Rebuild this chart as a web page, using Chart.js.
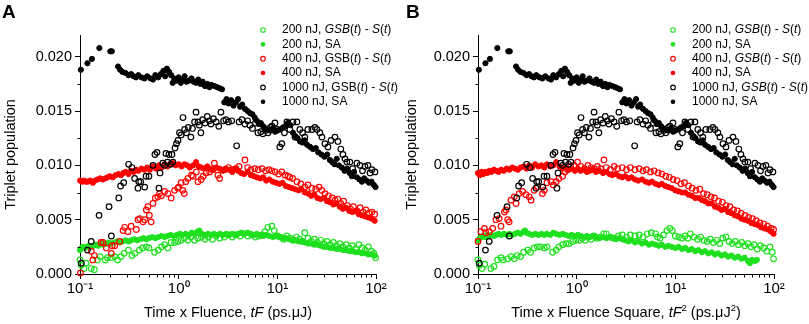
<!DOCTYPE html>
<html><head><meta charset="utf-8">
<script src="https://cdn.jsdelivr.net/npm/chart.js@4.4.1/dist/chart.umd.min.js"></script>
<style>
html,body{margin:0;padding:0;background:#fff;}
#wrap{position:relative;width:809px;height:324px;overflow:hidden;background:#fff;}
canvas{position:absolute;top:0;width:404px;height:324px;}
#cA{left:0;} #cB{left:405px;}
</style></head><body>
<div id="wrap"><canvas id="cA" width="404" height="324"></canvas><canvas id="cB" width="404" height="324"></canvas></div>
<script>
const FONT = "'Liberation Sans', Arial, Helvetica, sans-serif";

// ---- axis ticks ----
const xMajorTicks = [0.1, 1, 10, 100];
const xTickLabels = ['10\u207B\u00B9', '10\u2070', '10\u00B9', '10\u00B2'];
const yTickValues = [0, 0.0025, 0.005, 0.0075, 0.01, 0.0125, 0.015, 0.0175, 0.02];
const yMajorTicks = [0, 0.005, 0.01, 0.015, 0.02];
const yTickLabels = ['0.000', '0.005', '0.010', '0.015', '0.020'];

// ---- 1000 nJ (same in both panels) ----
const k1000Sa = [[0.102,0.0188],[0.119,0.0194],[0.132,0.0198],[0.157,0.0208],[0.203,0.0205],[0.210,0.0205],
[0.243,0.0191],[0.255,0.0188],[0.27,0.0186],[0.29,0.0185],[0.31,0.0183],[0.33,0.0184],[0.35,0.0182],[0.37,0.0181],[0.39,0.0183],[0.42,0.0181],[0.45,0.0180],[0.48,0.0182],[0.52,0.0180],[0.55,0.0179],[0.58,0.0183],[0.62,0.0181],[0.66,0.0184],[0.70,0.0187],[0.73,0.0182],[0.76,0.0189],[0.80,0.0186],[0.84,0.0183],[0.87,0.0176],[0.90,0.0180],[0.95,0.0178],[1.0,0.0181],[1.05,0.0176],[1.1,0.0179],[1.15,0.0182],[1.2,0.0177],[1.27,0.0178],[1.35,0.0180],[1.42,0.0177],[1.5,0.0176],[1.58,0.0179],[1.66,0.0175],[1.75,0.0177],[1.85,0.0173],[1.95,0.0175],[2.05,0.0172],[2.15,0.0174],[2.3,0.0173],[2.45,0.0172],[2.6,0.0171],[2.75,0.0170],
[2.9,0.0158],[3.05,0.0161],[3.2,0.0157],[3.4,0.0160],[3.6,0.0155],[3.8,0.0158],[4.0,0.0161],[4.2,0.0154],[4.4,0.0156],[4.7,0.0152],[5.0,0.0150],[5.3,0.0148],[5.6,0.0147],[5.9,0.0144],[6.2,0.0141],[6.5,0.0138],[6.8,0.0139],[7.2,0.0136],[7.6,0.0134],[8.0,0.0133],[8.5,0.0132],[9.0,0.0134],[9.5,0.0131],[10,0.0132],[10.7,0.0133],[11.4,0.0135],[12.1,0.0136],[12.8,0.0139],[13.6,0.0137],[14.4,0.0130],[15.2,0.0127],[16,0.0125],[17,0.0122],[18,0.0121],[19,0.0123],[20,0.0119],[21.5,0.0117],[23,0.0115],[24.5,0.0116],[26,0.0112],[28,0.0110],[30,0.0108],[32,0.0110],[34,0.0105],[36,0.0103],[38,0.0101],[40,0.0106],[42,0.0100],[45,0.0098],[48,0.0095],[51,0.0097],[54,0.0093],[57,0.0090],[60,0.0094],[64,0.0089],[68,0.0087],[72,0.0085],[76,0.0088],[80,0.0086],[85,0.0084],[90,0.0085],[95,0.0082],[99,0.0080]];

const k1000Gsb = [[0.103,0.0010],[0.119,0.0022],[0.130,0.0030],[0.156,0.0054],[0.197,0.0062],[0.208,0.0035],[0.247,0.0070],[0.258,0.0081],[0.277,0.0084],[0.311,0.0101],[0.336,0.0098],[0.358,0.0088],[0.387,0.0079],[0.394,0.0085],[0.412,0.0085],[0.453,0.0080],[0.467,0.0090],[0.500,0.0090],[0.549,0.0100],[0.575,0.0110],[0.603,0.0112],[0.631,0.0079],[0.647,0.0093],[0.69,0.0102],[0.72,0.0100],[0.743,0.0111],[0.77,0.0103],[0.797,0.0110],[0.83,0.0101],[0.855,0.0110],[0.875,0.0103],[0.918,0.0116],[0.95,0.0120],[0.984,0.0123],[1.02,0.0130],[1.06,0.0128],[1.106,0.0144],[1.15,0.0133],[1.2,0.0130],[1.25,0.0135],[1.33,0.0126],[1.38,0.0134],[1.45,0.0140],[1.50,0.0149],[1.57,0.0140],[1.62,0.0137],[1.68,0.0130],[1.75,0.0142],[1.85,0.0139],[1.95,0.0145],[2.05,0.0141],[2.12,0.0138],[2.25,0.0143],[2.4,0.0140],[2.55,0.0136],[2.68,0.0149],[2.85,0.0141],[3.01,0.0142],[3.2,0.0140],[3.45,0.0141],[3.87,0.0118],[4.1,0.0140],[4.38,0.0142],[4.7,0.0138],[5.0,0.0141],[5.27,0.0137],[5.6,0.0134],[6.0,0.0139],[6.36,0.0130],[6.8,0.0131],[7.14,0.0129],[7.6,0.0132],[8.03,0.0130],[8.5,0.0135],[8.82,0.0136],[9.46,0.0139],[10.0,0.0133],[10.6,0.0117],[11.1,0.0120],[11.8,0.0130],[12.5,0.0140],[13.4,0.0133],[14.4,0.0140],[15.1,0.0126],[15.8,0.0140],[16.9,0.0133],[18.0,0.0130],[19.0,0.0126],[20.4,0.0133],[22.4,0.0133],[24.0,0.0135],[25.2,0.0133],[27,0.0130],[28.3,0.0126],[30.4,0.0120],[32.6,0.0117],[35,0.0123],[38.4,0.0126],[41.1,0.0122],[44,0.0115],[46.2,0.0110],[48.5,0.0106],[50.7,0.0103],[54.4,0.0103],[58,0.0097],[64.1,0.0102],[68.8,0.0100],[73,0.0095],[77.3,0.0099],[82.8,0.0100],[87,0.0093],[90.9,0.0096],[97.5,0.0094]];

// ---- Panel A: 400 nJ ----
const a400Sa = [[0.100,0.0086],[0.105,0.0085],[0.11,0.0086],[0.115,0.0085],[0.12,0.0085],[0.127,0.0086],[0.135,0.0084],[0.142,0.0086],[0.15,0.0087],[0.16,0.0088],[0.17,0.0087],[0.18,0.0088],[0.19,0.0089],[0.20,0.0090],[0.215,0.0089],[0.23,0.0091],[0.245,0.0092],[0.26,0.0091],[0.275,0.0093],[0.29,0.0094],[0.31,0.0092],[0.33,0.0095],[0.35,0.0094],[0.37,0.0096],[0.39,0.0095],[0.42,0.0097],[0.45,0.0096],[0.48,0.0098],[0.51,0.0096],[0.55,0.0099],[0.59,0.0097],[0.63,0.0100],[0.67,0.0098],[0.72,0.0101],[0.77,0.0099],[0.82,0.0101],[0.87,0.0102],[0.93,0.0100],[1.0,0.0101],[1.07,0.0099],[1.14,0.0101],[1.22,0.0100],[1.3,0.0098],[1.4,0.0100],[1.5,0.0103],[1.6,0.0099],[1.7,0.0098],[1.82,0.0097],[1.95,0.0099],[2.1,0.0097],[2.25,0.0096],[2.4,0.0098],[2.6,0.0097],[2.8,0.0095],[3.0,0.0097],[3.25,0.0096],[3.5,0.0094],[3.75,0.0097],[4.0,0.0095],[4.3,0.0093],[4.6,0.0092],[5.0,0.0094],[5.4,0.0091],[5.8,0.0090],[6.2,0.0089],[6.7,0.0088],[7.2,0.0089],[7.7,0.0086],[8.3,0.0087],[9.0,0.0085],[9.7,0.0084],[10.5,0.0083],[11.3,0.0084],[12.2,0.0081],[13.1,0.0080],[14.1,0.0079],[15.2,0.0078],[16.4,0.0077],[17.6,0.0078],[19,0.0075],[20.5,0.0074],[22,0.0072],[23.7,0.0073],[25.5,0.0070],[27.5,0.0069],[29.6,0.0070],[31.9,0.0067],[34.3,0.0066],[37,0.0064],[39.8,0.0065],[42.9,0.0062],[46.2,0.0060],[49.8,0.0061],[53.6,0.0058],[57.7,0.0057],[62.2,0.0058],[67,0.0055],[72.2,0.0054],[77.7,0.0053],[83.7,0.0052],[90.1,0.0051],[97,0.0049]];

const a400Gsb = [[0.101,0.0001],[0.130,0.0021],[0.135,0.0013],[0.14,0.0017],[0.163,0.0029],[0.171,0.0029],[0.185,0.0024],[0.208,0.0019],[0.212,0.0026],[0.225,0.0026],[0.253,0.0030],[0.273,0.0040],[0.283,0.0043],[0.306,0.0039],[0.33,0.0044],[0.372,0.0041],[0.387,0.0050],[0.403,0.0051],[0.435,0.0048],[0.453,0.0050],[0.47,0.0059],[0.488,0.0062],[0.505,0.0054],[0.526,0.0048],[0.549,0.0065],[0.58,0.0070],[0.615,0.0071],[0.64,0.0074],[0.668,0.0072],[0.72,0.0076],[0.78,0.0074],[0.84,0.0070],[0.91,0.0077],[0.98,0.0079],[1.0,0.0080],[1.06,0.0084],[1.10,0.0077],[1.14,0.0074],[1.18,0.0085],[1.24,0.0088],[1.35,0.0091],[1.40,0.0090],[1.51,0.0094],[1.57,0.0085],[1.69,0.0087],[1.77,0.0090],[1.90,0.0093],[2.06,0.0094],[2.21,0.0096],[2.3,0.0102],[2.5,0.0091],[2.6,0.0088],[2.93,0.0096],[3.2,0.0098],[3.5,0.0096],[3.8,0.0097],[4.1,0.0099],[4.7,0.0105],[5.0,0.0098],[5.4,0.0096],[5.9,0.0097],[6.4,0.0096],[7.0,0.0097],[7.6,0.0095],[8.2,0.0096],[8.8,0.0095],[9.5,0.0094],[10.3,0.0092],[11.1,0.0094],[12,0.0091],[12.8,0.0090],[13.4,0.0089],[14.3,0.0088],[15.8,0.0085],[17.3,0.0083],[19,0.0080],[20.4,0.0082],[22.4,0.0079],[24.5,0.0078],[26.5,0.0080],[28.3,0.0077],[30.4,0.0074],[33,0.0072],[36,0.0070],[38.5,0.0068],[41,0.0069],[44,0.0065],[47,0.0067],[51,0.0063],[55,0.0060],[59,0.0062],[64,0.0058],[69,0.0061],[74,0.0057],[79,0.0059],[85,0.0056],[91,0.0057],[97,0.0055]];

// ---- Panel A: 200 nJ ----
const a200Sa = [[0.100,0.0022],[0.103,0.0024],[0.107,0.0025],[0.112,0.0024],[0.117,0.0025],[0.123,0.0026],[0.13,0.0025],[0.137,0.0026],[0.145,0.0027],[0.153,0.0026],[0.162,0.0028],[0.172,0.0027],[0.183,0.0028],[0.195,0.0029],[0.208,0.0028],[0.222,0.0029],[0.237,0.0030],[0.253,0.0029],[0.27,0.0030],[0.29,0.0031],[0.31,0.0030],[0.33,0.0031],[0.355,0.0032],[0.38,0.0031],[0.41,0.0032],[0.44,0.0033],[0.47,0.0032],[0.5,0.0033],[0.54,0.0034],[0.58,0.0033],[0.62,0.0034],[0.67,0.0035],[0.72,0.0034],[0.77,0.0035],[0.83,0.0036],[0.89,0.0035],[0.96,0.0036],[1.03,0.0037],[1.1,0.0036],[1.18,0.0037],[1.27,0.0036],[1.36,0.0038],[1.46,0.0037],[1.55,0.0039],[1.62,0.0040],[1.72,0.0037],[1.85,0.0036],[1.98,0.0037],[2.12,0.0036],[2.28,0.0037],[2.45,0.0036],[2.63,0.0037],[2.82,0.0036],[3.03,0.0037],[3.25,0.0036],[3.5,0.0037],[3.75,0.0036],[4.0,0.0037],[4.3,0.0038],[4.6,0.0037],[5.0,0.0038],[5.4,0.0037],[5.8,0.0036],[6.2,0.0037],[6.7,0.0036],[7.2,0.0035],[7.7,0.0036],[8.3,0.0035],[9.0,0.0034],[9.7,0.0035],[10.5,0.0034],[11.3,0.0033],[12.2,0.0033],[13.1,0.0032],[14.1,0.0031],[15.2,0.0031],[16.4,0.0030],[17.6,0.0030],[19,0.0029],[20.5,0.0028],[22,0.0028],[23.7,0.0027],[25.5,0.0027],[27.5,0.0026],[29.6,0.0025],[31.9,0.0025],[34.3,0.0024],[37,0.0024],[39.8,0.0023],[42.9,0.0023],[46.2,0.0022],[49.8,0.0022],[53.6,0.0021],[57.7,0.0021],[62.2,0.0020],[67,0.0020],[72.2,0.0019],[77.7,0.0019],[83.7,0.0018],[90.1,0.0018],[97,0.0017]];

const a200Gsb = [[0.100,0.0013],[0.103,0.0008],[0.11,0.0005],[0.115,0.0010],[0.13,0.0005],[0.14,0.0004],[0.15,0.0013],[0.16,0.0016],[0.18,0.0013],[0.19,0.0015],[0.208,0.0015],[0.225,0.0016],[0.24,0.0013],[0.26,0.0016],[0.28,0.0019],[0.31,0.0022],[0.336,0.0017],[0.36,0.0019],[0.40,0.0022],[0.43,0.0024],[0.47,0.0025],[0.50,0.0024],[0.57,0.0020],[0.62,0.0022],[0.67,0.0025],[0.72,0.0027],[0.78,0.0024],[0.84,0.0029],[0.91,0.0029],[0.98,0.0030],[1.06,0.0031],[1.14,0.0033],[1.24,0.0031],[1.33,0.0034],[1.45,0.0031],[1.57,0.0033],[1.7,0.0034],[1.85,0.0032],[2.0,0.0034],[2.2,0.0032],[2.4,0.0035],[2.6,0.0033],[2.9,0.0034],[3.2,0.0036],[3.5,0.0034],[3.8,0.0036],[4.2,0.0035],[4.6,0.0037],[5.0,0.0035],[5.5,0.0036],[6.0,0.0034],[6.5,0.0035],[7.0,0.0036],[7.5,0.0039],[8.0,0.0043],[8.8,0.0044],[9.3,0.0040],[10,0.0035],[10.8,0.0034],[11.6,0.0032],[12.5,0.0035],[13.5,0.0033],[14.5,0.0031],[15.6,0.0034],[16.8,0.0032],[18,0.0030],[19,0.0038],[20.5,0.0033],[22,0.0030],[23.7,0.0032],[25.5,0.0029],[27.5,0.0031],[29.6,0.0028],[31.9,0.0030],[34.3,0.0027],[37,0.0029],[39.8,0.0026],[42.9,0.0028],[46.2,0.0025],[49.8,0.0027],[53.6,0.0024],[57.7,0.0026],[62.2,0.0023],[67,0.0027],[72.2,0.0024],[77.7,0.0022],[83.7,0.0025],[90.1,0.0021],[95,0.0019],[99,0.0015]];

// ---- Panel B: 400 nJ ----
const b400Sa = [[0.100,0.0093],[0.104,0.0091],[0.108,0.0094],[0.113,0.0092],[0.118,0.0094],[0.124,0.0093],[0.13,0.0095],[0.137,0.0094],[0.145,0.0096],[0.153,0.0095],[0.162,0.0094],[0.172,0.0096],[0.183,0.0095],[0.195,0.0097],[0.208,0.0096],[0.222,0.0098],[0.237,0.0097],[0.253,0.0096],[0.27,0.0098],[0.29,0.0099],[0.31,0.0097],[0.33,0.0100],[0.355,0.0098],[0.38,0.0101],[0.41,0.0099],[0.44,0.0100],[0.47,0.0098],[0.5,0.0101],[0.54,0.0099],[0.58,0.0100],[0.62,0.0103],[0.67,0.0099],[0.72,0.0097],[0.77,0.0098],[0.83,0.0096],[0.89,0.0097],[0.96,0.0095],[1.03,0.0097],[1.1,0.0095],[1.18,0.0096],[1.27,0.0094],[1.36,0.0095],[1.46,0.0096],[1.57,0.0094],[1.7,0.0095],[1.85,0.0093],[2.0,0.0094],[2.15,0.0092],[2.3,0.0091],[2.5,0.0092],[2.7,0.0090],[2.9,0.0089],[3.1,0.0090],[3.35,0.0088],[3.6,0.0089],[3.9,0.0087],[4.2,0.0086],[4.6,0.0087],[5.0,0.0085],[5.4,0.0084],[5.8,0.0085],[6.3,0.0083],[6.8,0.0082],[7.3,0.0083],[7.9,0.0081],[8.5,0.0080],[9.2,0.0079],[10,0.0077],[10.8,0.0076],[11.7,0.0075],[12.6,0.0075],[13.6,0.0073],[14.7,0.0072],[15.9,0.0070],[17.2,0.0070],[18.6,0.0068],[20,0.0067],[21.6,0.0065],[23.4,0.0065],[25.2,0.0062],[27.2,0.0061],[29.4,0.0059],[31.7,0.0060],[34.3,0.0057],[37,0.0056],[40,0.0054],[43.2,0.0053],[46.7,0.0051],[50.4,0.0050],[54.4,0.0049],[58.8,0.0047],[63.5,0.0046],[68.6,0.0045],[74,0.0043],[80,0.0042],[86.4,0.0041],[93.3,0.0039],[99,0.0037]];

const b400Gsb = [[0.100,0.0030],[0.107,0.0039],[0.116,0.0042],[0.12,0.0038],[0.13,0.0039],[0.141,0.0042],[0.152,0.0050],[0.164,0.0051],[0.171,0.0044],[0.185,0.0057],[0.192,0.0059],[0.20,0.0050],[0.207,0.0048],[0.216,0.0068],[0.233,0.0071],[0.243,0.0065],[0.262,0.0074],[0.283,0.0076],[0.306,0.0073],[0.33,0.0071],[0.345,0.0068],[0.37,0.0077],[0.40,0.0080],[0.45,0.0074],[0.47,0.0077],[0.50,0.0084],[0.55,0.0085],[0.58,0.0082],[0.62,0.0085],[0.66,0.0088],[0.72,0.0090],[0.76,0.0094],[0.81,0.0096],[0.87,0.0099],[0.94,0.0100],[1.02,0.0103],[1.1,0.0099],[1.2,0.0097],[1.3,0.0100],[1.4,0.0098],[1.5,0.0097],[1.62,0.0099],[1.75,0.0097],[1.89,0.0105],[2.0,0.0098],[2.2,0.0096],[2.4,0.0099],[2.6,0.0097],[2.9,0.0098],[3.2,0.0096],[3.5,0.0098],[3.9,0.0096],[4.3,0.0097],[4.7,0.0095],[5.1,0.0096],[5.6,0.0094],[6.1,0.0095],[6.7,0.0093],[7.3,0.0092],[8.0,0.0090],[8.7,0.0089],[9.5,0.0087],[10.4,0.0086],[11.4,0.0083],[12.4,0.0084],[13.6,0.0081],[14.8,0.0079],[16.2,0.0077],[17.7,0.0078],[19.3,0.0074],[21,0.0073],[23,0.0071],[25,0.0070],[27.4,0.0067],[30,0.0066],[32.7,0.0063],[35.7,0.0062],[39,0.0059],[42.5,0.0058],[46.4,0.0056],[50.7,0.0054],[55.3,0.0052],[60.4,0.0051],[66,0.0049],[72,0.0047],[78.6,0.0046],[85.8,0.0044],[93.7,0.0042],[99,0.0041]];

// ---- Panel B: 200 nJ ----
const b200Sa = [[0.100,0.0031],[0.104,0.0033],[0.108,0.0034],[0.113,0.0035],[0.118,0.0034],[0.124,0.0036],[0.13,0.0035],[0.137,0.0036],[0.145,0.0035],[0.153,0.0036],[0.162,0.0037],[0.172,0.0036],[0.183,0.0037],[0.195,0.0036],[0.208,0.0037],[0.222,0.0036],[0.237,0.0037],[0.253,0.0038],[0.27,0.0037],[0.29,0.0039],[0.30,0.0040],[0.31,0.0038],[0.33,0.0037],[0.355,0.0036],[0.38,0.0037],[0.41,0.0036],[0.44,0.0037],[0.47,0.0036],[0.5,0.0037],[0.54,0.0036],[0.58,0.0038],[0.62,0.0037],[0.67,0.0036],[0.72,0.0037],[0.77,0.0036],[0.83,0.0035],[0.89,0.0036],[0.96,0.0035],[1.03,0.0036],[1.1,0.0035],[1.18,0.0034],[1.27,0.0035],[1.36,0.0034],[1.46,0.0035],[1.57,0.0034],[1.7,0.0033],[1.85,0.0034],[2.0,0.0033],[2.15,0.0034],[2.3,0.0033],[2.5,0.0032],[2.7,0.0033],[2.9,0.0032],[3.1,0.0031],[3.35,0.0030],[3.6,0.0031],[3.9,0.0029],[4.2,0.0030],[4.6,0.0028],[5.0,0.0029],[5.4,0.0027],[5.8,0.0028],[6.3,0.0027],[6.8,0.0026],[7.3,0.0027],[7.9,0.0025],[8.5,0.0026],[9.2,0.0025],[10,0.0024],[10.8,0.0025],[11.7,0.0023],[12.6,0.0024],[13.6,0.0022],[14.7,0.0023],[15.9,0.0021],[17.2,0.0022],[18.6,0.0020],[20,0.0021],[21.6,0.0019],[23.4,0.0020],[25.2,0.0018],[27.2,0.0019],[29.4,0.0017],[31.7,0.0018],[34.3,0.0016],[37,0.0017],[40,0.0015],[43.2,0.0016],[46.7,0.0014],[50.4,0.0015],[54.4,0.0012],[57,0.0010],[60,0.0013],[64,0.0012],[67,0.0013]];

const b200Gsb = [[0.100,0.0013],[0.103,0.0008],[0.11,0.0005],[0.117,0.0009],[0.135,0.0005],[0.145,0.0007],[0.158,0.0013],[0.171,0.0015],[0.18,0.0013],[0.20,0.0014],[0.216,0.0016],[0.233,0.0014],[0.25,0.0017],[0.27,0.0016],[0.29,0.0020],[0.32,0.0022],[0.34,0.0020],[0.37,0.0024],[0.40,0.0025],[0.43,0.0025],[0.47,0.0024],[0.50,0.0025],[0.57,0.0020],[0.62,0.0022],[0.66,0.0025],[0.72,0.0027],[0.78,0.0028],[0.84,0.0028],[0.91,0.0030],[0.98,0.0031],[1.06,0.0031],[1.14,0.0033],[1.22,0.0031],[1.3,0.0034],[1.4,0.0032],[1.5,0.0035],[1.6,0.0033],[1.75,0.0034],[1.88,0.0037],[2.0,0.0037],[2.2,0.0034],[2.4,0.0033],[2.65,0.0035],[2.9,0.0036],[3.2,0.0034],[3.5,0.0036],[3.9,0.0035],[4.3,0.0036],[4.7,0.0034],[5.2,0.0037],[5.7,0.0038],[6.3,0.0037],[6.6,0.0034],[7.0,0.0033],[7.6,0.0036],[8.2,0.0040],[8.8,0.0042],[9.3,0.0040],[10,0.0035],[10.8,0.0034],[11.6,0.0033],[12.5,0.0035],[13.4,0.0033],[14.2,0.0037],[15.5,0.0034],[16.8,0.0032],[18,0.0034],[19.5,0.0031],[21,0.0030],[22.6,0.0032],[24.3,0.0029],[26.2,0.0031],[28.2,0.0028],[30.3,0.0033],[32.6,0.0034],[35,0.0030],[37.7,0.0028],[40.6,0.0030],[43.7,0.0027],[47,0.0029],[50.6,0.0026],[54.4,0.0028],[58.5,0.0025],[63,0.0027],[67.8,0.0023],[73,0.0026],[78.5,0.0024],[84.5,0.0021],[91,0.0025],[96,0.0020],[99,0.0014]];

// ---- styles ----
const GREEN = '#1ee01e', RED = '#ff0000', BLACK = '#000000';

function seg(str) { // '|' separates segments, '*' prefix = italic, '^' prefix = superscript
  return str.split('|').map(s => s[0] === '*' ? [s.slice(1), 'i'] : (s[0] === '^' ? [s.slice(1), 'sup'] : [s, 'n']));
}

const seriesA = [
  {data: a200Gsb, color: GREEN, filled: false, legend: seg('200 nJ, |*GSB|(|*t|) - |*S|(|*t|)')},
  {data: a200Sa,  color: GREEN, filled: true,  legend: seg('200 nJ, SA')},
  {data: a400Gsb, color: RED,   filled: false, legend: seg('400 nJ, GSB(|*t|) - |*S|(|*t|)')},
  {data: a400Sa,  color: RED,   filled: true,  legend: seg('400 nJ, SA')},
  {data: k1000Gsb,color: BLACK, filled: false, legend: seg('1000 nJ, GSB(|*t|) - |*S|(|*t|)')},
  {data: k1000Sa, color: BLACK, filled: true,  legend: seg('1000 nJ, SA')}
];
const seriesB = [
  {data: b200Gsb, color: GREEN, filled: false, legend: seg('200 nJ, |*GSB|(|*t|) - |*S|(|*t|)')},
  {data: b200Sa,  color: GREEN, filled: true,  legend: seg('200 nJ, SA')},
  {data: b400Gsb, color: RED,   filled: false, legend: seg('400 nJ, |*GSB|(|*t|) - |*S|(|*t|)')},
  {data: b400Sa,  color: RED,   filled: true,  legend: seg('400 nJ, SA')},
  {data: k1000Gsb,color: BLACK, filled: false, legend: seg('1000 nJ, |*GSB|(|*t|) - |*S|(|*t|)')},
  {data: k1000Sa, color: BLACK, filled: true,  legend: seg('1000 nJ, SA')}
];

function drawRich(ctx, segs, x, y, size, align) {
  const parts = segs.map(([t, st]) => {
    const sup = st === 'sup';
    const it = st === 'i';
    const font = (it ? 'italic ' : '') + (sup ? size * 0.66 : size) + 'px ' + FONT;
    ctx.font = font;
    return {t, font, dy: sup ? -size * 0.4 : 0, w: ctx.measureText(t).width};
  });
  const total = parts.reduce((a, p) => a + p.w, 0);
  let cx = align === 'center' ? x - total / 2 : x;
  ctx.textAlign = 'left';
  parts.forEach(p => { ctx.font = p.font; ctx.fillText(p.t, cx, y + p.dy); cx += p.w; });
}

const decor = {
  id: 'decor',
  afterDraw(chart, args, o) {
    const ctx = chart.ctx;
    const xs = chart.scales.x, ys = chart.scales.y;
    ctx.save();
    ctx.strokeStyle = '#000'; ctx.lineWidth = 1;
    ctx.beginPath();
    const by = Math.round(ys.bottom) + 0.5;
    xs.ticks.forEach(t => { if (!t.major) { const px = Math.round(xs.getPixelForValue(t.value)) + 0.5; ctx.moveTo(px, by); ctx.lineTo(px, by + 3); } });
    const lx = Math.round(xs.left) + 0.5;
    ys.ticks.forEach(t => { if (!t.major) { const py = Math.round(ys.getPixelForValue(t.value)) + 0.5; ctx.moveTo(lx, py); ctx.lineTo(lx - 3, py); } });
    ctx.stroke();
    // panel letter
    ctx.fillStyle = '#000';
    ctx.textBaseline = 'alphabetic';
    ctx.font = 'bold 19px ' + FONT;
    ctx.textAlign = 'left';
    ctx.fillText(o.panel, o.panelX, 18);
    // x title
    drawRich(ctx, o.xTitle, (xs.left + xs.right) / 2, 317, 14.5, 'center');
    // legend
    o.series.forEach((s, i) => {
      const y = o.legY0 + i * o.legDy;
      ctx.beginPath();
      ctx.arc(o.legMX, y, 2.3, 0, Math.PI * 2);
      if (s.filled) { ctx.fillStyle = s.color; ctx.fill(); }
      else { ctx.strokeStyle = s.color; ctx.lineWidth = 1.1; ctx.stroke(); }
      ctx.fillStyle = '#000';
      ctx.textBaseline = 'middle';
      drawRich(ctx, s.legend, o.legTX, y, 12, 'left');
    });
    ctx.restore();
  }
};

function makeChart(canvasId, series, cfg) {
  const datasets = series.map((s, i) => ({
    label: s.legend.map(p => p[0]).join(''),
    data: s.data.map(([x, y]) => ({x, y})),
    showLine: false,
    pointStyle: 'circle',
    pointRadius: s.filled ? 2.6 : 2.8,
    pointBorderWidth: s.filled ? 1 : 1.2,
    pointBorderColor: s.color,
    pointBackgroundColor: s.filled ? s.color : 'rgba(0,0,0,0)',
    order: series.length - 1 - i,
    clip: false
  }));
  return new Chart(document.getElementById(canvasId), {
    type: 'scatter',
    data: {datasets},
    options: {
      responsive: false, animation: false, devicePixelRatio: 1, events: [],
      layout: {padding: {left: 0, right: cfg.padRight, top: 35, bottom: 0}},
      plugins: {
        legend: {display: false}, tooltip: {enabled: false},
        decor: {panel: cfg.panel, panelX: cfg.panelX, xTitle: cfg.xTitle, series,
                legMX: cfg.legMX, legTX: cfg.legTX, legY0: 30, legDy: 14.35}
      },
      scales: {
        x: {
          type: 'logarithmic', min: 0.1, max: 100, position: 'bottom',
          afterBuildTicks: (s) => {
            const vals = [];
            for (let d = 0; d < xMajorTicks.length; d++) {
              vals.push({value: xMajorTicks[d], major: true});
              if (d < xMajorTicks.length - 1) for (let m = 2; m <= 9; m++) vals.push({value: xMajorTicks[d] * m, major: false});
            }
            s.ticks = vals;
          },
          afterFit: (s) => { s.height = 50; },
          ticks: {autoSkip: false, maxRotation: 0, minRotation: 0, padding: 1, color: '#000',
                  font: {family: FONT, size: 15},
                  callback: (v) => { const k = xMajorTicks.indexOf(v); return k >= 0 ? xTickLabels[k] : ''; }},
          grid: {display: true, drawOnChartArea: false, drawTicks: true, tickLength: 5, lineWidth: 1,
                 tickColor: (c) => (c.tick && c.tick.major) ? '#000' : 'rgba(0,0,0,0)'},
          border: {display: true, color: '#000', width: 1},
          title: {display: false}
        },
        y: {
          type: 'linear', min: 0, max: 0.022, position: 'left',
          afterBuildTicks: (s) => { s.ticks = yTickValues.map(v => ({value: v, major: yMajorTicks.includes(v)})); },
          afterFit: (s) => { s.width = cfg.yWidth; },
          ticks: {autoSkip: false, padding: 3, color: '#000', font: {family: FONT, size: 14.5},
                  callback: (v) => { const k = yMajorTicks.indexOf(v); return k >= 0 ? yTickLabels[k] : ''; }},
          grid: {display: true, drawOnChartArea: false, drawTicks: true, tickLength: 5, lineWidth: 1,
                 tickColor: (c) => (c.tick && c.tick.major) ? '#000' : 'rgba(0,0,0,0)'},
          border: {display: true, color: '#000', width: 1},
          title: {display: true, text: 'Triplet population', color: '#000',
                  font: {family: FONT, size: 14.5, lineHeight: 1}, padding: {top: cfg.yTitlePad, bottom: 0}}
        }
      }
    },
    plugins: [decor]
  });
}

makeChart('cA', seriesA, {panel: 'A', panelX: 2, padRight: 28, yWidth: 80, yTitlePad: 4,
  xTitle: seg('Time x Fluence, |*tF| (ps.\u03BCJ)'), legMX: 263, legTX: 282});
makeChart('cB', seriesB, {panel: 'B', panelX: 1, padRight: 35, yWidth: 73, yTitlePad: 0,
  xTitle: seg('Time x Fluence Square, |*tF|^2| (ps.\u03BCJ|^2|)'), legMX: 268, legTX: 287});
</script></body></html>
